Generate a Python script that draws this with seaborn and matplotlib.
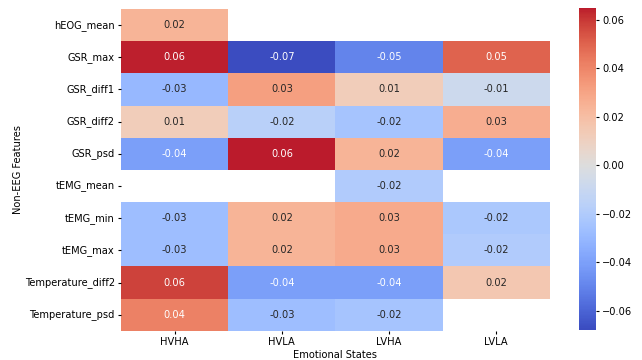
import numpy as np
import pandas as pd
import matplotlib.pyplot as plt
import seaborn as sns

# Dados
features = ['hEOG_mean', 'GSR_max', 'GSR_diff1', 'GSR_diff2', 'GSR_psd',
            'tEMG_mean', 'tEMG_min', 'tEMG_max', 'Temperature_diff2', 'Temperature_psd']
states = ['HVHA', 'HVLA', 'LVHA', 'LVLA']

hvha = [0.024, 0.064, -0.030, 0.012, -0.040, np.nan, -0.027, -0.027, 0.058, 0.042]
hvla = [np.nan, -0.068, 0.032, -0.017, 0.0649, np.nan, 0.024, 0.024, -0.040, -0.027]
lvha = [np.nan, -0.050, 0.012, -0.024, 0.024, -0.020, 0.028, 0.028, -0.040, -0.024]
lvla = [np.nan, 0.050, -0.008, 0.027, -0.040, np.nan, -0.022, -0.020, 0.016, np.nan]

df = pd.DataFrame({'HVHA': hvha, 'HVLA': hvla, 'LVHA': lvha, 'LVLA': lvla},
                  index=features)[states]

fs = 7.1
fig = plt.figure(figsize=(6.42, 3.6))
ax = fig.add_axes([0.1885, 0.081, 0.668, 0.894])
cax = fig.add_axes([0.902, 0.083, 0.0265, 0.895])
sns.heatmap(df, annot=True, fmt='.2f', cmap='coolwarm', center=0,
            annot_kws={'size': fs}, ax=ax, cbar_ax=cax)
ax.set_xlabel('Emotional States', fontsize=fs, labelpad=2)
ax.set_ylabel('Non-EEG Features', fontsize=fs, labelpad=1)
ax.tick_params(labelsize=fs, length=2.5, pad=2)
cax.tick_params(labelsize=fs, length=2.5, pad=2)
fig.savefig('out.png', dpi=100)
